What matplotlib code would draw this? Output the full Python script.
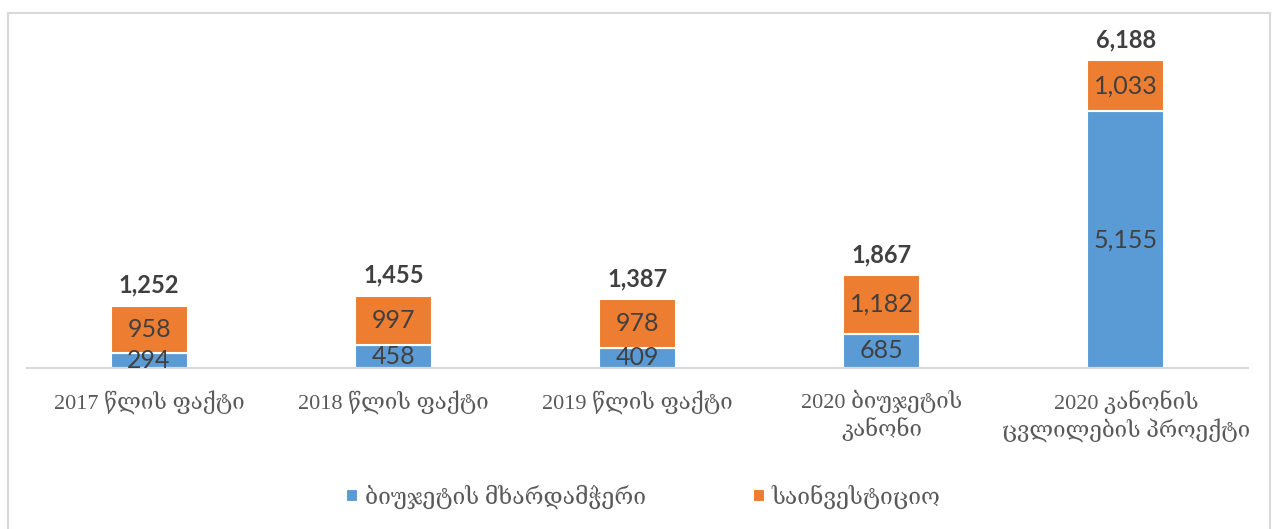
import matplotlib
matplotlib.use('Agg')
import matplotlib.pyplot as plt
import numpy as np

categories = ['2017 წლის ფაქტი', '2018 წლის ფაქტი', '2019 წლის ფაქტი',
              '2020 ბიუჯეტის\nკანონი', '2020 კანონის\nცვლილების პროექტი']
budget_support = [294, 458, 409, 685, 5155]
investment = [958, 997, 978, 1182, 1033]
totals = [1252, 1455, 1387, 1867, 6188]
series_names = ['ბიუჯეტის მხარდამჭერი', 'საინვესტიციო']

BLUE = '#5B9BD5'
ORANGE = '#ED7D31'
SERIF = ['Liberation Serif', 'DejaVu Serif']
NUM = ['Lato', 'DejaVu Sans']

W, H = 1279, 529
fig = plt.figure(figsize=(W / 100, H / 100), dpi=100)
ax = fig.add_axes([27 / W, 1 - 368 / H, (1248 - 27) / W, (368 - 30) / H])

x = np.arange(len(categories))
b1 = ax.bar(x, budget_support, width=0.315, color=BLUE, edgecolor='white', linewidth=1.5)
b2 = ax.bar(x, investment, width=0.315, bottom=budget_support, color=ORANGE,
            edgecolor='white', linewidth=1.5)

for i in range(len(x)):
    ax.text(x[i], budget_support[i] / 2, f'{budget_support[i]:,}', ha='center', va='center',
            fontsize=18, color='#404040', family=NUM)
    ax.text(x[i], budget_support[i] + investment[i] / 2, f'{investment[i]:,}', ha='center',
            va='center', fontsize=18, color='#404040', family=NUM)
    ax.text(x[i], totals[i] + 180, f'{totals[i]:,}', ha='center', va='bottom',
            fontsize=17, fontweight='bold', color='#404040', family=NUM)

ax.set_xlim(-0.5, 4.5)
ax.set_ylim(0, 6790)
ax.set_xticks(x)
ax.set_xticklabels(categories, family=SERIF, fontsize=16, color='#595959', linespacing=1.2)
ax.tick_params(axis='x', length=0, pad=16)
ax.set_yticks([])
for s in ['top', 'right', 'left']:
    ax.spines[s].set_visible(False)
ax.spines['bottom'].set_color('#D9D9D9')
ax.spines['bottom'].set_linewidth(1.5)

leg = fig.legend([b1, b2], series_names, loc='center', bbox_to_anchor=(0.503, 1 - 497 / H),
                 ncol=2, frameon=False, handlelength=0.5, handleheight=0.5,
                 handletextpad=0.3, columnspacing=4.7,
                 prop={'family': SERIF, 'size': 16.5})
for t in leg.get_texts():
    t.set_color('#595959')

# outer chart frame
fl, fr, ft = 8 / W, 1270 / W, 1 - 13 / H
fig.add_artist(plt.Line2D([fl, fr], [ft, ft], color='#D9D9D9', lw=1.5, transform=fig.transFigure))
fig.add_artist(plt.Line2D([fl, fl], [0, ft], color='#D9D9D9', lw=1.5, transform=fig.transFigure))
fig.add_artist(plt.Line2D([fr, fr], [0, ft], color='#D9D9D9', lw=1.5, transform=fig.transFigure))

fig.savefig('out.png', dpi=100, facecolor='white')
